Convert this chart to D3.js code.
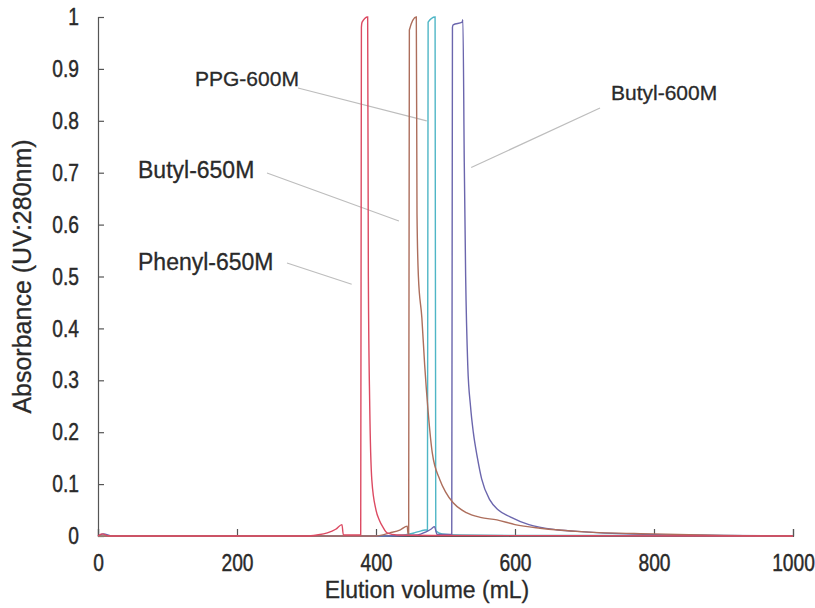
<!DOCTYPE html>
<html>
<head>
<meta charset="utf-8">
<script src="https://cdn.jsdelivr.net/npm/d3@7"></script>
<style>
  body { margin: 0; background: #fff; }
  text { font-family: "Liberation Sans", Arial, sans-serif; fill: #2a2a2a; }
</style>
</head>
<body>
<div id="chart"></div>
<script>
// elution volumes (mL) and absorbance for each resin
var phenylVol = [0, 6, 15, 100, 200, 300, 315, 330, 342, 351, 353, 378, 379, 380, 388, 389, 391, 394, 400, 405, 410, 416, 430, 500, 1000];
var phenylAbs = [0, 0.004, 0, 0, 0, 0, 0.002, 0.006, 0.013, 0.022, 0.002, 0.002, 0.98, 0.99, 1.0, 0.5, 0.25, 0.108, 0.05, 0.03, 0.017, 0.006, 0.002, 0.001, 0];

var butyl650Vol = [0, 300, 400, 420, 435, 445, 446, 447, 448, 458, 459, 461, 466, 470, 475, 481, 492, 500, 511, 530, 550, 574, 600, 636, 700, 800, 900, 1000];
var butyl650Abs = [0, 0, 0, 0.006, 0.012, 0.019, 0.004, 0.004, 0.975, 1.0, 0.62, 0.5, 0.42, 0.33, 0.24, 0.16, 0.108, 0.085, 0.064, 0.045, 0.036, 0.031, 0.022, 0.015, 0.008, 0.004, 0.001, 0];

var ppgVol = [0, 400, 440, 455, 465, 473, 474, 475, 485, 486, 495, 520, 600, 800, 1000];
var ppgAbs = [0, 0, 0.002, 0.006, 0.01, 0.012, 0.01, 0.99, 1.0, 0.01, 0.004, 0.002, 0.001, 0.001, 0];

var butyl600Vol = [0, 8, 20, 400, 460, 472, 480, 484, 488, 509, 510, 511, 524, 525, 527, 529, 532, 536, 540, 546, 552, 564, 576, 593, 620, 660, 700, 760, 830, 900, 1000];
var butyl600Abs = [0, 0.004, 0, 0, 0.002, 0.008, 0.014, 0.018, 0.003, 0.003, 0.98, 0.985, 0.99, 0.995, 0.72, 0.5, 0.33, 0.25, 0.2, 0.15, 0.11, 0.069, 0.05, 0.037, 0.022, 0.012, 0.008, 0.004, 0.002, 0.001, 0];

var seriesColors = ["#4fb6c6", "#6b66ad", "#ad6e5c", "#dc4a62"];

var xTicks = [0, 200, 400, 600, 800, 1000];
var yTicks = [0, 0.1, 0.2, 0.3, 0.4, 0.5, 0.6, 0.7, 0.8, 0.9, 1];

// label text, where it sits, and where its pointer ends (volume, absorbance)
var labelNames = ["PPG-600M", "Butyl-600M", "Butyl-650M", "Phenyl-650M"];
var labelPos = [[195, 86], [611, 100], [138, 178], [138, 270]];
var labelSize = [21, 21, 23, 23];
var pointerFrom = [[298, 88], [600, 108], [267, 173], [287, 263]];
var pointerTo = [[473, 0.80], [537, 0.71], [433, 0.607], [365, 0.485]];

var width = 815, height = 608;
var margin = { top: 17, right: 22, bottom: 72, left: 98 };
var squeeze = 0.8; // tick labels use a condensed face in the original

var svg = d3.select("#chart")
  .append("svg")
  .attr("width", width)
  .attr("height", height);

var x = d3.scaleLinear().domain([0, 1000]).range([margin.left, width - margin.right]);
var y = d3.scaleLinear().domain([0, 1]).range([height - margin.bottom, margin.top]);

// axes, ticks pointing inward
var xAxis = svg.append("g")
  .attr("transform", "translate(0," + y(0) + ")")
  .call(d3.axisBottom(x).tickValues(xTicks).tickSize(-7).tickPadding(18).tickFormat(d3.format("d")));

var yAxis = svg.append("g")
  .attr("transform", "translate(" + x(0) + ",0)")
  .call(d3.axisLeft(y).tickValues(yTicks).tickSize(-6).tickPadding(19).tickFormat(function(d) { return d === 0 || d === 1 ? d : d3.format(".1f")(d); }));

[xAxis, yAxis].forEach(function(a) {
  a.select(".domain").attr("stroke", "#555").attr("stroke-width", 1.2);
  a.selectAll(".tick line").attr("stroke", "#555").attr("stroke-width", 1.2);
  a.selectAll(".tick text")
    .style("font-size", "24px")
    .attr("fill", "#2a2a2a")
    .attr("stroke", "#2a2a2a")
    .attr("stroke-width", 0.45)
    .attr("transform", "scale(" + squeeze + ",1)");
});
yAxis.selectAll(".tick text").attr("x", -19 / squeeze);

// pointer lines and series labels
labelNames.forEach(function(name, i) {
  svg.append("line")
    .attr("x1", pointerFrom[i][0])
    .attr("y1", pointerFrom[i][1])
    .attr("x2", x(pointerTo[i][0]))
    .attr("y2", y(pointerTo[i][1]))
    .attr("stroke", "#bdbdbd")
    .attr("stroke-width", 1.2);
  svg.append("text")
    .attr("x", labelPos[i][0])
    .attr("y", labelPos[i][1])
    .style("font-size", labelSize[i] + "px")
    .attr("stroke", "#2a2a2a")
    .attr("stroke-width", 0.3)
    .text(name);
});

var line = d3.line()
  .x(function(d) { return x(d[0]); })
  .y(function(d) { return y(d[1]); })
  .curve(d3.curveMonotoneX);

var seriesData = [
  d3.zip(ppgVol, ppgAbs),
  d3.zip(butyl600Vol, butyl600Abs),
  d3.zip(butyl650Vol, butyl650Abs),
  d3.zip(phenylVol, phenylAbs)
];

seriesData.forEach(function(pts, i) {
  svg.append("path")
    .datum(pts)
    .attr("class", "series")
    .attr("d", line)
    .attr("fill", "none")
    .attr("stroke", seriesColors[i])
    .attr("stroke-width", 1.4);
});

// axis titles
svg.append("text")
  .attr("x", 427)
  .attr("y", 598)
  .attr("text-anchor", "middle")
  .style("font-size", "23px")
  .attr("stroke", "#2a2a2a")
  .attr("stroke-width", 0.3)
  .text("Elution volume (mL)");

svg.append("text")
  .attr("transform", "translate(31," + ((y(0) + y(1)) / 2) + ") rotate(-90)")
  .attr("text-anchor", "middle")
  .style("font-size", "25px")
  .attr("stroke", "#2a2a2a")
  .attr("stroke-width", 0.3)
  .text("Absorbance (UV:280nm)");
</script>
</body>
</html>
